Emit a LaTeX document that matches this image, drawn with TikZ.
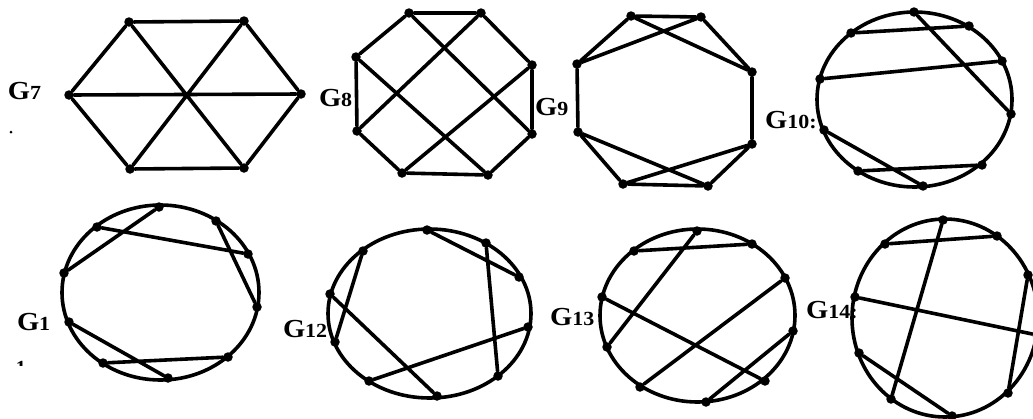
\documentclass[tikz,border=0pt]{standalone}
\usepackage{fontspec}
\setmainfont{Liberation Serif}
\newcommand{\Glab}[1]{\scalebox{1.1}[1]{{\fontsize{26}{26}\selectfont\bfseries G}{\fontsize{20}{20}\selectfont\bfseries #1}}}
\begin{document}
\begin{tikzpicture}[x=1pt,y=-1pt,
  vx/.style={circle,fill=black,inner sep=0pt,minimum size=9.5pt},
  edge/.style={line width=3.6pt,line cap=round},
  rim/.style={line width=3.6pt},
  lab/.style={anchor=base west,inner sep=0pt,outer sep=0pt}]
\useasboundingbox (0,0) rectangle (1033,418);
\clip (0,0) rectangle (1033,418);
% ---------------- G7 ----------------
\node[vx] (a1) at (129,22) {};
\node[vx] (a2) at (244,21) {};
\node[vx] (a3) at (301,94) {};
\node[vx] (a4) at (244,168) {};
\node[vx] (a5) at (130,169) {};
\node[vx] (a6) at (69,95) {};
\draw[edge] (a1)--(a2) (a2)--(a3) (a3)--(a4) (a4)--(a5) (a5)--(a6) (a6)--(a1)
  (a6)--(a3) (a1)--(a4) (a2)--(a5);
\node[lab] (l7) at (8,99) {\Glab{7}};
\fill (11,132) circle (1.5pt);
% ---------------- G8 ----------------
\node[vx] (b1) at (409,13) {};
\node[vx] (b2) at (481,13) {};
\node[vx] (b3) at (532,65) {};
\node[vx] (b4) at (532,134) {};
\node[vx] (b5) at (488,175) {};
\node[vx] (b6) at (402,173) {};
\node[vx] (b7) at (357,131) {};
\node[vx] (b8) at (356,57) {};
\draw[edge] (b1)--(b2) (b2)--(b3) (b3)--(b4) (b4)--(b5) (b5)--(b6) (b6)--(b7) (b7)--(b8) (b8)--(b1)
  (b1)--(b4) (b2)--(b7) (b8)--(b5) (b3)--(b6);
\node[lab] (l8) at (319,106) {\Glab{8}};
% ---------------- G9 ----------------
\node[vx] (c1) at (631,16) {};
\node[vx] (c2) at (701,17) {};
\node[vx] (c3) at (752,72) {};
\node[vx] (c4) at (752,144) {};
\node[vx] (c5) at (708,186) {};
\node[vx] (c6) at (623,184) {};
\node[vx] (c7) at (578,132) {};
\node[vx] (c8) at (577,64) {};
\draw[edge] (c1)--(c2) (c1)--(c8) (c1)--(c3) (c2)--(c8) (c2)--(c3) (c3)--(c4)
  (c8)--(c7) (c7)--(c6) (c7)--(c5) (c4)--(c6) (c4)--(c5) (c6)--(c5);
\node[lab] (l9) at (535,115) {\Glab{9}};
% ---------------- G10 ----------------
\draw[rim] (914.5,99.5) ellipse [x radius=97.5pt, y radius=87.5pt];
\node[vx] (d1) at (914,12) {};
\node[vx] (d2) at (969,26) {};
\node[vx] (d3) at (1002,61) {};
\node[vx] (d4) at (1011,114) {};
\node[vx] (d5) at (982,165) {};
\node[vx] (d6) at (923,186) {};
\node[vx] (d7) at (858,171) {};
\node[vx] (d8) at (824,130) {};
\node[vx] (d9) at (820,79) {};
\node[vx] (d10) at (851,33) {};
\draw[edge] (d10)--(d2) (d1)--(d4) (d9)--(d3) (d8)--(d6) (d7)--(d5);
\node[lab] (l10) at (765,128) {\Glab{10:}};
% ---------------- G1 ----------------
\draw[rim] (160.5,292.5) ellipse [x radius=98.5pt, y radius=87.5pt];
\node[vx] (e1) at (159,207) {};
\node[vx] (e2) at (216,221) {};
\node[vx] (e3) at (248,254) {};
\node[vx] (e4) at (257,307) {};
\node[vx] (e5) at (228,357) {};
\node[vx] (e6) at (168,378) {};
\node[vx] (e7) at (103,363) {};
\node[vx] (e8) at (69,322) {};
\node[vx] (e9) at (64,273) {};
\node[vx] (e10) at (97,227) {};
\draw[edge] (e1)--(e9) (e10)--(e3) (e2)--(e4) (e8)--(e6) (e7)--(e5);
\node[lab] (l1) at (17,330) {\Glab{1}};
\begin{scope}
\clip (0,350) rectangle (40,365.5);
\node[lab] (l1b) at (16,374) {\fontsize{20}{20}\selectfont\bfseries 1};
\end{scope}
% ---------------- G12 ----------------
\draw[rim] (429.5,313.5) ellipse [x radius=101.5pt, y radius=84.5pt];
\node[vx] (f1) at (427,230) {};
\node[vx] (f2) at (486,243) {};
\node[vx] (f3) at (519,277) {};
\node[vx] (f4) at (528,327) {};
\node[vx] (f5) at (498,376) {};
\node[vx] (f6) at (437,396) {};
\node[vx] (f7) at (369,381) {};
\node[vx] (f8) at (335,342) {};
\node[vx] (f9) at (330,294) {};
\node[vx] (f10) at (363,251) {};
\draw[edge] (f1)--(f3) (f2)--(f5) (f4)--(f7) (f9)--(f6) (f10)--(f8);
\node[lab] (l12) at (283,337) {\Glab{12}};
% ---------------- G13 ----------------
\draw[rim] (697.5,315.5) ellipse [x radius=97.5pt, y radius=86.5pt];
\node[vx] (g1) at (697,231) {};
\node[vx] (g2) at (752,244) {};
\node[vx] (g3) at (785,278) {};
\node[vx] (g4) at (793,331) {};
\node[vx] (g5) at (765,381) {};
\node[vx] (g6) at (706,402) {};
\node[vx] (g7) at (640,387) {};
\node[vx] (g8) at (607,347) {};
\node[vx] (g9) at (602,297) {};
\node[vx] (g10) at (634,251) {};
\draw[edge] (g10)--(g2) (g1)--(g8) (g9)--(g5) (g3)--(g7) (g4)--(g6);
\node[lab] (l13) at (550,325) {\Glab{13}};
% ---------------- G14 ----------------
\draw[rim] (945,318) ellipse [x radius=93pt, y radius=99pt];
\node[vx] (h1) at (943,220) {};
\node[vx] (h2) at (997,236) {};
\node[vx] (h3) at (1028,275) {};
\node[vx] (h4) at (1037,335) {};
\node[vx] (h5) at (1008,393) {};
\node[vx] (h6) at (952,416) {};
\node[vx] (h7) at (891,399) {};
\node[vx] (h8) at (859,353) {};
\node[vx] (h9) at (855,297) {};
\node[vx] (h10) at (885,244) {};
\draw[edge] (h10)--(h2) (h1)--(h7) (h9)--(h4) (h3)--(h5) (h8)--(h6);
\node[lab] (l14) at (806,318) {\Glab{14:}};
\end{tikzpicture}
\end{document}
